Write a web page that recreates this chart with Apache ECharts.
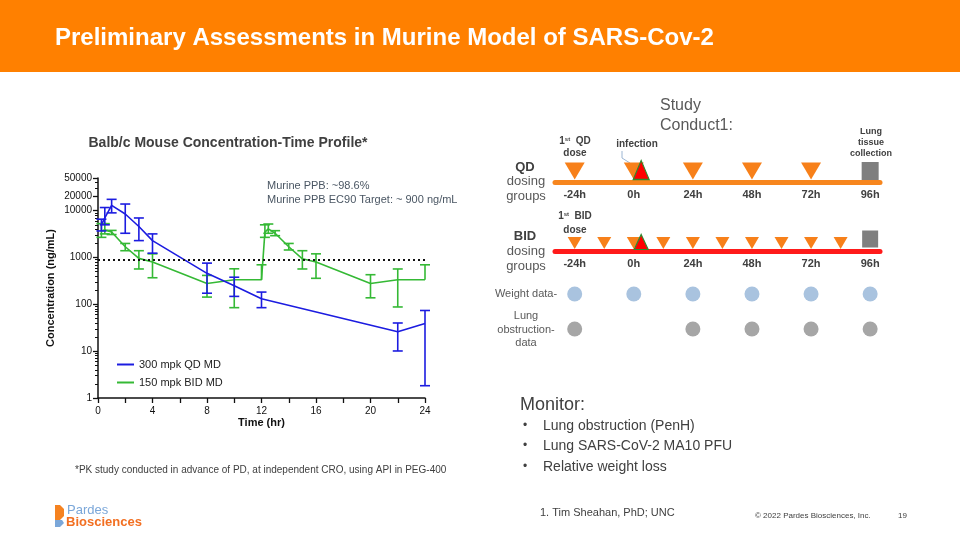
<!DOCTYPE html>
<html><head><meta charset="utf-8">
<script src="https://cdn.jsdelivr.net/npm/echarts@6/dist/echarts.min.js"></script>
<style>html,body{margin:0;padding:0;background:#fff}#c{width:960px;height:540px}</style>
</head><body><div id="c"></div>
<script>
// ---- PK data (Balb/c mouse) ----
const blueName = '300 mpk QD MD';
const blueT    = [0.25, 0.5, 1, 2, 3, 4, 8, 10, 12, 22, 24];
const blueMean = [5000, 7000, 13000, 8500, 4600, 2300, 460, 250, 132, 26, 39];
const blueLow  = [3700, 5000, 9000, 3300, 2300, 1240, 173, 148, 85, 10.1, 1.83];
const blueHigh = [6600, 11700, 17500, 13900, 7000, 3200, 760, 380, 183, 40, 74];

const greenName = '150 mpk BID MD';
const greenT    = [0.25, 0.5, 1, 2, 3, 4, 8, 10, 12, 12.25, 12.5, 13, 14, 15, 16, 20, 22, 24];
const greenMean = [3700, 3900, 3500, 1700, 960, 800, 280, 335, 335, 3500, 4100, 3300, 1700, 940, 800, 280, 335, 335];
const greenLow  = [2700, 3200, 3100, 1400, 570, 370, 143, 85, null, 2700, 3300, 2930, 1450, 570, 360, 138, 88, null];
const greenHigh = [5300, 5300, 3800, 2000, 1400, 1200, 415, 575, 700, 5000, 5200, 3750, 2000, 1400, 1200, 430, 570, 700];

const ec90Target = 900;
const yLabelValues = [1, 10, 100, 1000, 10000, 20000, 50000];
const yMinorValues = [2,3,4,5,6,7,8,9,20,30,40,50,60,70,80,90,200,300,400,500,600,700,800,900,2000,3000,4000,5000,6000,7000,8000,9000,30000,40000];

// ---- Study conduct timeline (hours) ----
const timelineTicks   = [-24, 0, 24, 48, 72, 96];
const qdDoseHours     = [-24, 0, 24, 48, 72];
const bidDoseHours    = [-24, -12, 0, 12, 24, 36, 48, 60, 72, 84];
const infectionHours  = [3];
const collectionHours = [96];
const weightHours     = [-24, 0, 24, 48, 72, 96];
const lungHours       = [-24, 24, 48, 72, 96];

const FONT = 'Liberation Sans, Arial, sans-serif';
const BLUE = '#1c1ce0', GREEN = '#35b935';
const ORANGE = '#ff8000';
const TRI = '#f7801a';

function errData(t, m, lo, hi) {
  return t.map((x, i) => [x, lo[i] == null ? m[i] : lo[i], hi[i], lo[i] == null ? 0 : 1]);
}
function errRender(color) {
  return function (params, api) {
    const t = api.value(0), lo = api.value(1), hi = api.value(2), hasLo = api.value(3);
    const pT = api.coord([t, hi]), pB = api.coord([t, lo]);
    const w = 5;
    const st = { stroke: color, lineWidth: 1.6 };
    const ch = [
      { type: 'line', shape: { x1: pT[0], y1: pT[1], x2: pB[0], y2: pB[1] }, style: st },
      { type: 'line', shape: { x1: pT[0] - w, y1: pT[1], x2: pT[0] + w, y2: pT[1] }, style: st }
    ];
    if (hasLo) ch.push({ type: 'line', shape: { x1: pB[0] - w, y1: pB[1], x2: pB[0] + w, y2: pB[1] }, style: st });
    return { type: 'group', children: ch };
  };
}
const zip = (a, b) => a.map((x, i) => [x, b[i]]);
const at0 = a => a.map(h => [h, 0]);

const chart = echarts.init(document.getElementById('c'));
const hiddenY = (gi) => ({ gridIndex: gi, type: 'value', min: 0, max: 1, show: false });
const hiddenX = (gi) => ({ gridIndex: gi, type: 'value', min: -32, max: 100, show: false });

const tlLabel = { customValues: timelineTicks, formatter: v => v + 'h', fontWeight: 'bold', fontSize: 11, color: '#404040', fontFamily: FONT, margin: 7 };

chart.setOption({
  animation: false,
  textStyle: { fontFamily: FONT },
  grid: [
    { left: 98, right: 535, top: 178, bottom: 142 },
    { left: 555, right: 80, top: 152, height: 30 },
    { left: 555, right: 80, top: 221, height: 30 },
    { left: 555, right: 80, top: 274, height: 20 },
    { left: 555, right: 80, top: 309, height: 20 }
  ],
  legend: {
    left: 112, top: 354, orient: 'vertical', itemGap: 7, itemWidth: 17, itemHeight: 2, icon: 'rect',
    data: [blueName, greenName],
    textStyle: { fontSize: 11, color: '#222', fontFamily: FONT }
  },
  xAxis: [
    {
      gridIndex: 0, type: 'value', min: 0, max: 24, interval: 2,
      name: 'Time (hr)', nameLocation: 'middle', nameGap: 19,
      nameTextStyle: { fontWeight: 'bold', fontSize: 11, color: '#111', fontFamily: FONT },
      axisLine: { lineStyle: { color: '#111', width: 1.5 } },
      axisTick: { length: 5, lineStyle: { color: '#111', width: 1.3 } },
      axisLabel: { fontSize: 10, color: '#111', margin: 8, formatter: v => (v % 4 === 0 ? String(v) : '') },
      splitLine: { show: false }
    },
    {
      gridIndex: 1, type: 'value', min: -32, max: 100,
      axisLine: { lineStyle: { color: '#f7861e', width: 5 } },
      axisTick: { show: false }, splitLine: { show: false }, axisLabel: tlLabel
    },
    {
      gridIndex: 2, type: 'value', min: -32, max: 100,
      axisLine: { lineStyle: { color: '#ff1a1a', width: 5 } },
      axisTick: { show: false }, splitLine: { show: false }, axisLabel: tlLabel
    },
    hiddenX(3), hiddenX(4)
  ],
  yAxis: [
    {
      gridIndex: 0, type: 'log', logBase: 10, min: 1, max: 50000,
      name: 'Concentration (ng/mL)', nameLocation: 'middle', nameGap: 42, nameRotate: 90,
      nameTextStyle: { fontWeight: 'bold', fontSize: 11, color: '#111', fontFamily: FONT },
      axisLine: { show: true, lineStyle: { color: '#111', width: 1.5 } },
      axisTick: { show: true, length: 5, customValues: yLabelValues, lineStyle: { color: '#111', width: 1.3 } },
      axisLabel: { fontSize: 10, color: '#111', margin: 6, customValues: yLabelValues, formatter: v => String(Math.round(v)) },
      splitLine: { show: false }, minorTick: { show: false }
    },
    {
      gridIndex: 0, type: 'log', logBase: 10, min: 1, max: 50000,
      axisLine: { show: false },
      axisTick: { show: true, length: 3, customValues: yMinorValues, lineStyle: { color: '#111', width: 1 } },
      axisLabel: { show: false }, splitLine: { show: false }, position: 'left'
    },
    hiddenY(1), hiddenY(2), hiddenY(3), hiddenY(4)
  ],
  series: [
    {
      name: blueName, type: 'line', xAxisIndex: 0, yAxisIndex: 0, data: zip(blueT, blueMean),
      showSymbol: false, symbol: 'none', lineStyle: { color: BLUE, width: 1.6 }, itemStyle: { color: BLUE }, z: 3,
      markLine: {
        silent: true, symbol: 'none', label: { show: false },
        lineStyle: { color: '#111', type: [2, 3], width: 2 },
        data: [{ yAxis: ec90Target }]
      }
    },
    {
      name: greenName, type: 'line', xAxisIndex: 0, yAxisIndex: 0, data: zip(greenT, greenMean),
      showSymbol: false, symbol: 'none', lineStyle: { color: GREEN, width: 1.6 }, itemStyle: { color: GREEN }, z: 2
    },
    { type: 'custom', xAxisIndex: 0, yAxisIndex: 0, data: errData(blueT, blueMean, blueLow, blueHigh), renderItem: errRender(BLUE), z: 3, silent: true },
    { type: 'custom', xAxisIndex: 0, yAxisIndex: 0, data: errData(greenT, greenMean, greenLow, greenHigh), renderItem: errRender(GREEN), z: 2, silent: true },

    // QD timeline
    { type: 'scatter', xAxisIndex: 1, yAxisIndex: 2, data: at0(qdDoseHours), symbol: 'triangle', symbolRotate: 180, symbolSize: [20, 17], symbolOffset: [0, -11], itemStyle: { color: TRI, opacity: 1 }, silent: true, z: 3 },
    { type: 'scatter', xAxisIndex: 1, yAxisIndex: 2, data: at0(infectionHours), symbol: 'triangle', symbolSize: [16, 19], symbolOffset: [0, -12], itemStyle: { color: '#ff0000', borderColor: '#2e8b2e', borderWidth: 1.2, opacity: 1 }, silent: true, z: 4 },
    { type: 'scatter', xAxisIndex: 1, yAxisIndex: 2, data: at0(collectionHours), symbol: 'rect', symbolSize: [17, 18], symbolOffset: [0, -11], itemStyle: { color: '#7f7f7f', opacity: 1 }, silent: true, z: 3 },
    // BID timeline
    { type: 'scatter', xAxisIndex: 2, yAxisIndex: 3, data: at0(bidDoseHours), symbol: 'triangle', symbolRotate: 180, symbolSize: [14, 12], symbolOffset: [0, -8], itemStyle: { color: TRI, opacity: 1 }, silent: true, z: 3 },
    { type: 'scatter', xAxisIndex: 2, yAxisIndex: 3, data: at0(infectionHours), symbol: 'triangle', symbolSize: [14, 15], symbolOffset: [0, -9], itemStyle: { color: '#ff0000', borderColor: '#2e8b2e', borderWidth: 1.2, opacity: 1 }, silent: true, z: 4 },
    { type: 'scatter', xAxisIndex: 2, yAxisIndex: 3, data: at0(collectionHours), symbol: 'rect', symbolSize: [16, 17], symbolOffset: [0, -12], itemStyle: { color: '#7f7f7f', opacity: 1 }, silent: true, z: 3 },
    // data collection rows
    { type: 'scatter', xAxisIndex: 3, yAxisIndex: 4, data: at0(weightHours), symbol: 'circle', symbolSize: 15, itemStyle: { color: '#a9c3df', opacity: 1 }, silent: true },
    { type: 'scatter', xAxisIndex: 4, yAxisIndex: 5, data: at0(lungHours), symbol: 'circle', symbolSize: 15, itemStyle: { color: '#a6a6a6', opacity: 1 }, silent: true }
  ],
  graphic: [
    { type: 'rect', shape: { x: 0, y: 0, width: 960, height: 72 }, style: { fill: ORANGE }, z: -1 },
    { type: 'text', x: 55, y: 38, style: { text: 'Preliminary Assessments in Murine Model of SARS-Cov-2', fill: '#fff', font: 'bold 24px ' + FONT, textVerticalAlign: 'middle' } },
    { type: 'text', x: 228, y: 143, style: { text: 'Balb/c Mouse Concentration-Time Profile*', fill: '#404040', font: 'bold 14px ' + FONT, textAlign: 'center', textVerticalAlign: 'middle' } },
    { type: 'text', x: 267, y: 186, style: { text: 'Murine PPB: ~98.6%', fill: '#4a5663', font: '11px ' + FONT, textVerticalAlign: 'middle' } },
    { type: 'text', x: 267, y: 200, style: { text: 'Murine PPB EC90 Target: ~ 900 ng/mL', fill: '#4a5663', font: '11px ' + FONT, textVerticalAlign: 'middle' } },
    { type: 'text', x: 75, y: 470, style: { text: '*PK study conducted in advance of PD, at independent CRO, using API in PEG-400', fill: '#404040', font: '10px ' + FONT, textVerticalAlign: 'middle' } },

    // Study conduct
    { type: 'text', x: 660, y: 106, style: { text: 'Study', fill: '#595959', font: '16px ' + FONT, textVerticalAlign: 'middle' } },
    { type: 'text', x: 660, y: 126, style: { text: 'Conduct1:', fill: '#595959', font: '16px ' + FONT, textVerticalAlign: 'middle' } },
    { type: 'text', x: 575, y: 141, style: { text: '{b|1}{s|st}{b|  QD}', rich: { b: { font: 'bold 10px ' + FONT, fill: '#404040' }, s: { font: 'bold 6px ' + FONT, fill: '#404040', verticalAlign: 'top', padding: [0, 0, 4, 0] } }, textAlign: 'center', textVerticalAlign: 'middle' } },
    { type: 'text', x: 575, y: 153, style: { text: 'dose', fill: '#404040', font: 'bold 10px ' + FONT, textAlign: 'center', textVerticalAlign: 'middle' } },
    { type: 'text', x: 637, y: 144, style: { text: 'infection', fill: '#404040', font: 'bold 10px ' + FONT, textAlign: 'center', textVerticalAlign: 'middle' } },
    { type: 'polyline', shape: { points: [[622, 151], [622, 158], [630, 163]] }, style: { stroke: '#9cb6d3', lineWidth: 1, fill: 'none' } },
    { type: 'text', x: 871, y: 126, style: { text: 'Lung\ntissue\ncollection', fill: '#404040', font: 'bold 9px ' + FONT, textAlign: 'center', textVerticalAlign: 'top', lineHeight: 11 } },
    { type: 'text', x: 525, y: 167, style: { text: 'QD', fill: '#404040', font: 'bold 13px ' + FONT, textAlign: 'center', textVerticalAlign: 'middle' } },
    { type: 'text', x: 526, y: 181, style: { text: 'dosing', fill: '#595959', font: '13px ' + FONT, textAlign: 'center', textVerticalAlign: 'middle' } },
    { type: 'text', x: 526, y: 196, style: { text: 'groups', fill: '#595959', font: '13px ' + FONT, textAlign: 'center', textVerticalAlign: 'middle' } },
    { type: 'text', x: 575, y: 216, style: { text: '{b|1}{s|st}{b|  BID}', rich: { b: { font: 'bold 10px ' + FONT, fill: '#404040' }, s: { font: 'bold 6px ' + FONT, fill: '#404040', verticalAlign: 'top', padding: [0, 0, 4, 0] } }, textAlign: 'center', textVerticalAlign: 'middle' } },
    { type: 'text', x: 575, y: 230, style: { text: 'dose', fill: '#404040', font: 'bold 10px ' + FONT, textAlign: 'center', textVerticalAlign: 'middle' } },
    { type: 'text', x: 525, y: 236, style: { text: 'BID', fill: '#404040', font: 'bold 13px ' + FONT, textAlign: 'center', textVerticalAlign: 'middle' } },
    { type: 'text', x: 526, y: 251, style: { text: 'dosing', fill: '#595959', font: '13px ' + FONT, textAlign: 'center', textVerticalAlign: 'middle' } },
    { type: 'text', x: 526, y: 266, style: { text: 'groups', fill: '#595959', font: '13px ' + FONT, textAlign: 'center', textVerticalAlign: 'middle' } },
    { type: 'text', x: 526, y: 294, style: { text: 'Weight data-', fill: '#595959', font: '11px ' + FONT, textAlign: 'center', textVerticalAlign: 'middle' } },
    { type: 'text', x: 526, y: 316, style: { text: 'Lung', fill: '#595959', font: '11px ' + FONT, textAlign: 'center', textVerticalAlign: 'middle' } },
    { type: 'text', x: 526, y: 330, style: { text: 'obstruction-', fill: '#595959', font: '11px ' + FONT, textAlign: 'center', textVerticalAlign: 'middle' } },
    { type: 'text', x: 526, y: 343, style: { text: 'data', fill: '#595959', font: '11px ' + FONT, textAlign: 'center', textVerticalAlign: 'middle' } },

    // Monitor
    { type: 'text', x: 520, y: 405, style: { text: 'Monitor:', fill: '#404040', font: '18px ' + FONT, textVerticalAlign: 'middle' } },
    { type: 'text', x: 523, y: 426, style: { text: '•', fill: '#404040', font: '12px ' + FONT, textVerticalAlign: 'middle' } },
    { type: 'text', x: 543, y: 426, style: { text: 'Lung obstruction (PenH)', fill: '#404040', font: '14px ' + FONT, textVerticalAlign: 'middle' } },
    { type: 'text', x: 523, y: 446, style: { text: '•', fill: '#404040', font: '12px ' + FONT, textVerticalAlign: 'middle' } },
    { type: 'text', x: 543, y: 446, style: { text: 'Lung SARS-CoV-2 MA10 PFU', fill: '#404040', font: '14px ' + FONT, textVerticalAlign: 'middle' } },
    { type: 'text', x: 523, y: 467, style: { text: '•', fill: '#404040', font: '12px ' + FONT, textVerticalAlign: 'middle' } },
    { type: 'text', x: 543, y: 467, style: { text: 'Relative weight loss', fill: '#404040', font: '14px ' + FONT, textVerticalAlign: 'middle' } },

    // Footer
    { type: 'polygon', shape: { points: [[55, 505], [60, 505], [64, 509], [64, 516], [60, 520], [55, 520]] }, style: { fill: '#f58220' } },
    { type: 'polygon', shape: { points: [[55, 520], [62, 520], [64, 523], [60, 527], [55, 527]] }, style: { fill: '#7ba7d9' } },
    { type: 'text', x: 67, y: 510, style: { text: 'Pardes', fill: '#7ba7d9', font: '13px ' + FONT, textVerticalAlign: 'middle' } },
    { type: 'text', x: 66, y: 522, style: { text: 'Biosciences', fill: '#f26f21', font: 'bold 13px ' + FONT, textVerticalAlign: 'middle' } },
    { type: 'text', x: 540, y: 513, style: { text: '1. Tim Sheahan, PhD; UNC', fill: '#404040', font: '11px ' + FONT, textVerticalAlign: 'middle' } },
    { type: 'text', x: 755, y: 516, style: { text: '© 2022 Pardes Biosciences, Inc.', fill: '#404040', font: '8px ' + FONT, textVerticalAlign: 'middle' } },
    { type: 'text', x: 898, y: 516, style: { text: '19', fill: '#404040', font: '8px ' + FONT, textVerticalAlign: 'middle' } }
  ]
});
</script></body></html>
